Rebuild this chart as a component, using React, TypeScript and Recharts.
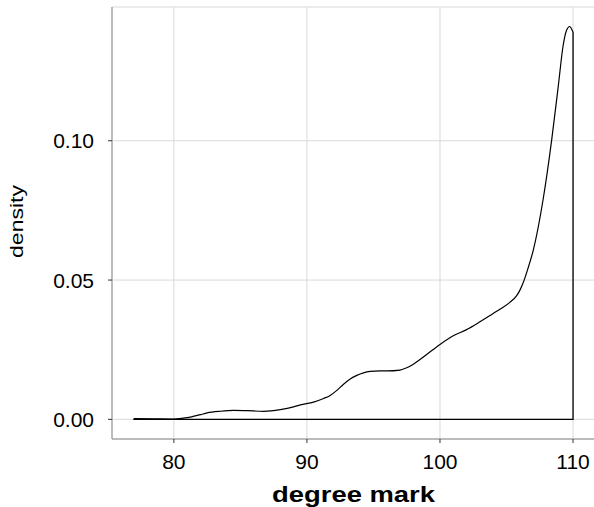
import React from 'react';
import { ComposedChart, Line, XAxis, YAxis, CartesianGrid } from 'recharts';

// density curve (degree mark -> density)
const degree: number[] = [
  77.0, 78.5, 80.0, 81.0, 82.0, 82.5, 83.5, 84.5, 85.5, 86.75, 88.0, 89.0, 89.5,
  90.5, 91.25, 91.75, 92.25, 92.75, 93.25, 93.75, 94.25, 94.75, 95.5, 96.0, 97.0, 97.5,
  98.0, 99.0, 100.0, 101.0, 102.0, 103.0, 104.0, 104.5, 105.25, 105.75, 106.0, 106.25,
  106.6, 107.0, 107.75, 108.4, 108.9, 109.25, 109.5, 109.75, 109.95, 110.0,
];
const density: number[] = [
  0.0003, 0.0002, 0.0001, 0.0006, 0.0017, 0.0023, 0.0029, 0.0032, 0.0031, 0.0029,
  0.0035, 0.0045, 0.0052, 0.0062, 0.0075, 0.0086, 0.0104, 0.0126, 0.0145, 0.0158, 0.0167,
  0.0172, 0.0174, 0.0174, 0.0177, 0.0185, 0.0198, 0.0233, 0.0269, 0.03, 0.0322,
  0.035, 0.038, 0.0395, 0.042, 0.0443, 0.0463, 0.049, 0.054, 0.0605, 0.0789, 0.1005,
  0.12, 0.134, 0.1395, 0.141, 0.1395, 0.139,
];
const xTicks: number[] = [80, 90, 100, 110];
const yTicks: number[] = [0, 0.05, 0.1];
const xDomain: [number, number] = [75.35, 111.65];
const yDomain: [number, number] = [-0.00705, 0.148];

const curve = degree.map((x, i) => ({ x, y: density[i] }));
const first = curve[0];
const last = curve[curve.length - 1];
// polygon closure of the density outline
const outline = [
  { x: last.x, y: last.y },
  { x: last.x, y: 0 },
  { x: first.x, y: 0 },
  { x: first.x, y: first.y },
];

const FONT = '"Liberation Sans", Arial, Helvetica, sans-serif';
const BORDER = '#8c8c8c';

const XLabel = (props: any) => {
  const vb = props.viewBox || {};
  const cx = vb.x + vb.width / 2;
  const by = vb.y + vb.height - 5.3;
  return (
    <text
      x={cx}
      y={by}
      textAnchor="middle"
      fontFamily={FONT}
      fontWeight="bold"
      fontSize={22.5}
      fill="#000"
      textLength={163}
      lengthAdjust="spacingAndGlyphs"
    >
      degree mark
    </text>
  );
};

const YLabel = (props: any) => {
  const vb = props.viewBox || {};
  const bx = vb.x + 23;
  const cy = vb.y + vb.height / 2 - 1.5;
  return (
    <text
      x={bx}
      y={cy}
      transform={`rotate(-90, ${bx}, ${cy})`}
      textAnchor="middle"
      fontFamily={FONT}
      fontSize={19}
      fill="#000"
      textLength={73}
      lengthAdjust="spacingAndGlyphs"
    >
      density
    </text>
  );
};

export default function App() {
  return (
    <div style={{ position: 'absolute', left: 0, top: 0, width: 594, height: 507, overflow: 'hidden', background: '#fff' }}>
      <ComposedChart width={596} height={507} margin={{ top: 7, right: 1, bottom: 0, left: 0 }}>
        <CartesianGrid xAxisId="b" stroke="#d9d9d9" strokeWidth={1} />
        <XAxis
          xAxisId="b"
          type="number"
          dataKey="x"
          domain={xDomain}
          ticks={xTicks}
          allowDataOverflow
          height={68}
          tickSize={4}
          tickMargin={11}
          axisLine={{ stroke: BORDER }}
          tickLine={{ stroke: '#333' }}
          tick={{ fill: '#000', fontSize: 21, fontFamily: FONT }}
          label={<XLabel />}
        />
        <XAxis
          xAxisId="t"
          orientation="top"
          type="number"
          dataKey="x"
          domain={xDomain}
          allowDataOverflow
          height={0}
          tick={false}
          tickLine={false}
          axisLine={{ stroke: BORDER }}
        />
        <YAxis
          type="number"
          domain={yDomain}
          ticks={yTicks}
          allowDataOverflow
          width={112}
          tickSize={4}
          tickMargin={14}
          tickFormatter={(v: number) => v.toFixed(2)}
          axisLine={{ stroke: BORDER }}
          tickLine={{ stroke: '#333' }}
          tick={{ fill: '#000', fontSize: 21, fontFamily: FONT }}
          label={<YLabel />}
        />
        <Line
          xAxisId="b"
          data={curve}
          dataKey="y"
          type="monotone"
          stroke="#000"
          strokeWidth={1.2}
          dot={false}
          isAnimationActive={false}
        />
        <Line
          xAxisId="b"
          data={outline}
          dataKey="y"
          type="linear"
          stroke="#000"
          strokeWidth={1.3}
          dot={false}
          isAnimationActive={false}
        />
      </ComposedChart>
    </div>
  );
}
